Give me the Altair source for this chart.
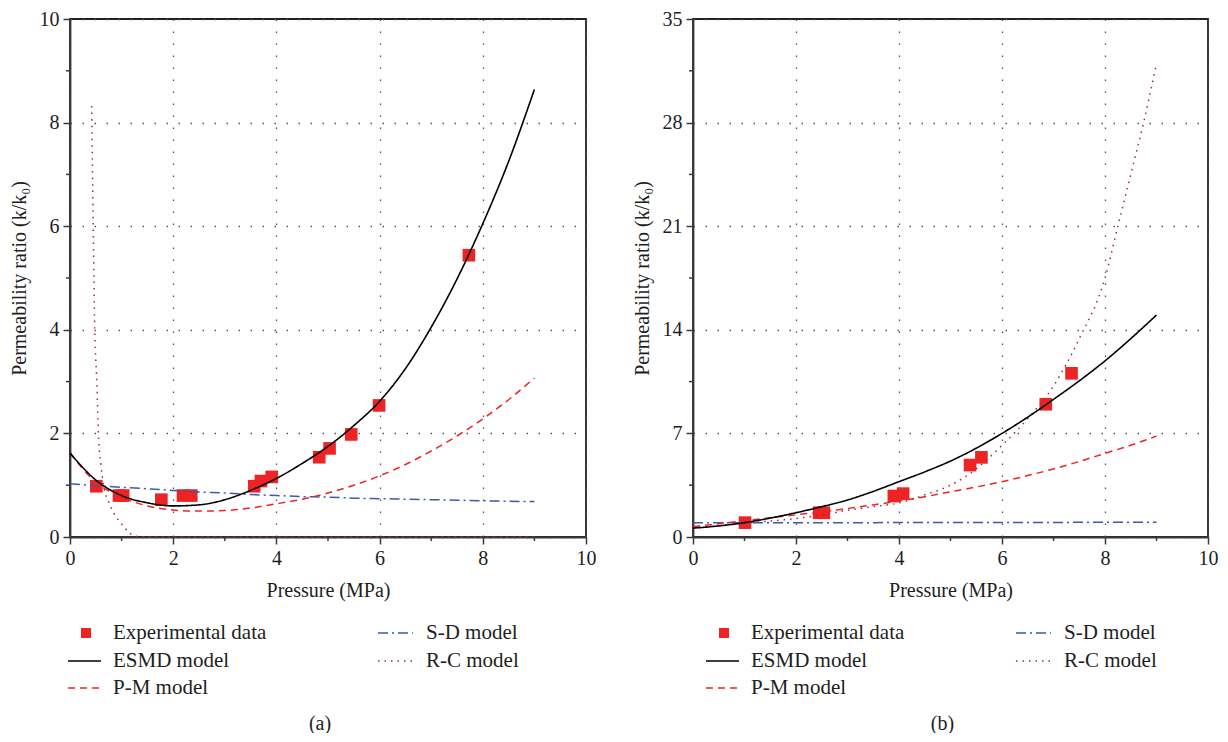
import altair as alt
import pandas as pd

# ---------------- Panel (a) ----------------
a_exp_p = [0.51, 0.95, 1.03, 1.77, 2.19, 2.35, 3.57, 3.70, 3.91, 4.83, 5.03, 5.45, 5.99, 7.73]
a_exp_k = [0.98, 0.80, 0.80, 0.72, 0.80, 0.80, 0.98, 1.08, 1.16, 1.54, 1.71, 1.98, 2.54, 5.44]

a_curve_p = [0, 0.5, 1, 1.5, 2, 2.5, 3, 3.5, 4, 4.5, 5, 5.5, 6, 6.5, 7, 7.5, 8, 8.5, 9]
a_esmd = [1.62, 1.10, 0.80, 0.66, 0.60, 0.62, 0.72, 0.90, 1.13, 1.42, 1.75, 2.15, 2.62, 3.25, 4.05, 4.98, 6.05, 7.25, 8.64]
a_pm = [1.62, 1.06, 0.77, 0.60, 0.52, 0.50, 0.51, 0.56, 0.64, 0.73, 0.85, 1.00, 1.18, 1.40, 1.66, 1.95, 2.28, 2.65, 3.07]
a_sd = [1.03, 0.99, 0.96, 0.93, 0.90, 0.87, 0.85, 0.82, 0.80, 0.78, 0.77, 0.75, 0.74, 0.73, 0.72, 0.71, 0.70, 0.69, 0.685]
a_rc_p = [0.42, 0.45, 0.48, 0.52, 0.55, 0.60, 0.65, 0.75, 0.85, 1.0, 1.15, 1.3, 1.6, 2, 3, 4, 5, 6, 7, 8, 9]
a_rc_k = [8.32, 6.0, 4.0, 3.0, 2.0, 1.4, 1.0, 0.68, 0.46, 0.25, 0.08, 0.01, 0, 0, 0, 0, 0, 0, 0, 0, 0]

# ---------------- Panel (b) ----------------
b_exp_p = [1.01, 2.45, 2.54, 3.90, 4.08, 5.38, 5.60, 6.85, 7.35]
b_exp_k = [0.97, 1.64, 1.64, 2.77, 2.93, 4.86, 5.38, 8.97, 11.06]

b_curve_p = [0, 0.5, 1, 1.5, 2, 2.5, 3, 3.5, 4, 4.5, 5, 5.5, 6, 6.5, 7, 7.5, 8, 8.5, 9]
b_esmd = [0.60, 0.75, 0.97, 1.28, 1.64, 2.05, 2.50, 3.08, 3.74, 4.40, 5.13, 6.00, 7.00, 8.10, 9.30, 10.55, 11.90, 13.40, 15.00]
b_pm = [0.70, 0.90, 1.10, 1.30, 1.50, 1.70, 1.93, 2.17, 2.43, 2.72, 3.05, 3.38, 3.74, 4.15, 4.60, 5.10, 5.65, 6.20, 6.82]
b_sd = [0.97, 0.97, 0.97, 0.97, 0.97, 0.97, 0.97, 0.97, 0.98, 0.98, 0.98, 0.98, 0.98, 0.98, 0.98, 0.99, 0.99, 0.99, 0.99]
b_rc_p = [0, 0.5, 1, 1.5, 2, 2.5, 3, 3.5, 4, 4.5, 5, 5.5, 6, 6.5, 7, 7.5, 8, 8.25, 8.5, 8.75, 9]
b_rc_k = [0.60, 0.75, 0.93, 1.08, 1.25, 1.50, 1.80, 2.05, 2.30, 2.85, 3.50, 4.60, 6.20, 8.00, 10.2, 13.4, 17.5, 21.0, 24.5, 28.0, 32.0]

x_major = [0, 2, 4, 6, 8, 10]
x_minor = [1, 3, 5, 7, 9]
a_y_major = [0, 2, 4, 6, 8, 10]
a_y_minor = [1, 3, 5, 7, 9]
b_y_major = [0, 7, 14, 21, 28, 35]
b_y_minor = [3.5, 10.5, 17.5, 24.5, 31.5]

legend_labels = ["Experimental data", "ESMD model", "P-M model", "S-D model", "R-C model"]

FONT = "Liberation Serif"
H = 518
RED = "#ee2324"
BLUE = "#3d5aa8"
DRED = "#9b2f3f"
AX = "#3a3a3a"
TXT = "#1e1e1e"


def panel(exp_p, exp_k, cp, esmd, pm, sd, rc_p, rc_k, y_major, y_minor, ymax, caption, lx, W):
    xs = alt.Scale(domain=[0, 10], nice=False, zero=False)
    ys = alt.Scale(domain=[0, ymax], nice=False, zero=False)

    xax = alt.Axis(values=x_major, title="Pressure (MPa)", grid=True, labelFlush=False,
                   gridDash=[1.5, 10.5], gridColor="#555", gridWidth=1.3,
                   tickSize=7, tickWidth=1.5, tickColor=AX, domainColor=AX, domainWidth=1.8,
                   labelPadding=4, titlePadding=12, format="d")
    yax = alt.Axis(values=y_major, title="Permeability ratio (k/k\u2080)", grid=True, labelFlush=False,
                   gridDash=[1.5, 10.5], gridColor="#555", gridWidth=1.3,
                   tickSize=7, tickWidth=1.5, tickColor=AX, domainColor=AX, domainWidth=1.8,
                   labelPadding=4, titlePadding=10, format="d")

    curves = pd.DataFrame({"p": cp, "esmd": esmd, "pm": pm, "sd": sd})
    rc = pd.DataFrame({"p": rc_p, "k": rc_k})
    exp = pd.DataFrame({"p": exp_p, "k": exp_k})

    pts = alt.Chart(exp).mark_point(shape="square", filled=True, size=160, color=RED, opacity=1).encode(
        x=alt.X("p:Q", scale=xs, axis=xax), y=alt.Y("k:Q", scale=ys, axis=yax))

    def line(col, color, dash, width=1.5):
        return alt.Chart(curves).mark_line(color=color, strokeDash=dash, strokeWidth=width,
                                           interpolate="monotone").encode(
            x=alt.X("p:Q", scale=xs), y=alt.Y(f"{col}:Q", scale=ys))

    l_esmd = line("esmd", "black", [1, 0], 1.6)
    l_pm = line("pm", RED, [7, 5])
    l_sd = line("sd", BLUE, [10, 4, 2, 4])
    l_rc = alt.Chart(rc).mark_line(color=DRED, strokeDash=[1.5, 5], strokeWidth=1.5,
                                   interpolate="monotone").encode(
        x=alt.X("p:Q", scale=xs), y=alt.Y("k:Q", scale=ys))

    mx = pd.DataFrame({"v": x_minor})
    my = pd.DataFrame({"v": y_minor})
    minor_x = alt.Chart(mx).mark_rule(color=AX, strokeWidth=1.5).encode(
        x=alt.X("v:Q", scale=xs), y=alt.value(H), y2=alt.value(H + 4))
    minor_y = alt.Chart(my).mark_rule(color=AX, strokeWidth=1.5).encode(
        y=alt.Y("v:Q", scale=ys), x=alt.value(0), x2=alt.value(-4))

    one = pd.DataFrame({"d": [0]})

    def txt(s, x, y, size=21):
        return alt.Chart(one).mark_text(font=FONT, fontSize=size, align="left", baseline="middle",
                                        color=TXT).encode(x=alt.value(x), y=alt.value(y), text=alt.value(s))

    def sample(x1, x2, y, color, dash, width=1.5):
        return alt.Chart(one).mark_rule(color=color, strokeDash=dash, strokeWidth=width).encode(
            x=alt.value(x1), x2=alt.value(x2), y=alt.value(y))

    r1, r2, r3 = 614, 642, 669
    c1 = lx
    legend = [
        alt.Chart(one).mark_point(shape="square", filled=True, size=100, color=RED, opacity=1).encode(
            x=alt.value(c1 + 18), y=alt.value(r1)),
        txt(legend_labels[0], c1 + 45, r1),
        sample(c1, c1 + 33, r2, "black", [1, 0], 1.6),
        txt(legend_labels[1], c1 + 45, r2),
        sample(c1, c1 + 33, r3, RED, [7, 5]),
        txt(legend_labels[2], c1 + 45, r3),
        sample(c1 + 310, c1 + 345, r1, BLUE, [10, 4, 2, 4]),
        txt(legend_labels[3], c1 + 358, r1),
        sample(c1 + 310, c1 + 345, r2, DRED, [1.5, 5]),
        txt(legend_labels[4], c1 + 358, r2),
        alt.Chart(one).mark_text(font=FONT, fontSize=20, align="center", baseline="middle", color=TXT).encode(
            x=alt.value(W / 2 - 8), y=alt.value(705), text=alt.value(caption)),
    ]

    return alt.layer(pts, l_rc, l_sd, l_pm, l_esmd, minor_x, minor_y, *legend).properties(width=W, height=H)


pa = panel(a_exp_p, a_exp_k, a_curve_p, a_esmd, a_pm, a_sd, a_rc_p, a_rc_k,
           a_y_major, a_y_minor, 10, "(a)", -2, 516)
pb = panel(b_exp_p, b_exp_k, b_curve_p, b_esmd, b_pm, b_sd, b_rc_p, b_rc_k,
           b_y_major, b_y_minor, 35, "(b)", 13, 515)

chart = alt.hconcat(pa, pb, spacing=34).configure_view(
    stroke="#222", strokeWidth=1.8
).configure_axis(
    labelFont=FONT, titleFont=FONT, labelFontSize=20, titleFontSize=20,
    labelColor=TXT, titleColor=TXT, titleFontWeight="normal"
).properties(background="white", padding={"left": 0, "top": 0, "right": 0, "bottom": -2})

chart.save("out.html", embed_options={"renderer": "svg", "actions": False})
